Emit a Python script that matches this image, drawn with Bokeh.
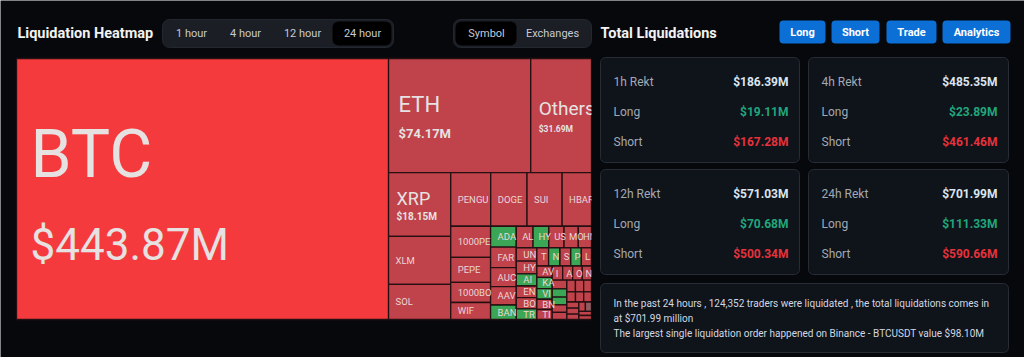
import math
from bokeh.plotting import figure
from bokeh.models import Range1d, ColumnDataSource
from bokeh.embed import file_html
from bokeh.resources import INLINE
from bokeh.core.properties import value

# ---------------- data ----------------
symbols = ["BTC", "ETH", "Others", "XRP", "XLM", "SOL", "PENGU", "DOGE", "SUI", "HBAR",
           "1000PEPE", "PEPE", "1000BONK", "WIF", "ADA", "FART", "AUCTION", "AAVE", "BANANA",
           "ALCH", "HYPE", "USUAL", "MOODENG", "HMSTR",
           "UNI", "HYPER", "AIXBT", "ENA", "BOME",
           "TRUMP", "TAO", "NIL", "S", "PUMP", "LINK", "AVAX", "KAITO", "VIRTUAL", "BNB", "TIA", "IP", "ARB",
           "OP", "NEAR", "WLD", "ONDO", "LTC", "TON", "FIL", "APT", "INJ", "JUP", "GALA", "ETC", "DOT",
           "TRX", "ATOM", "NOT", "CRV", "ORDI", "ENS", "SAND"]
liq_values = [443.87, 74.17, 31.69, 18.15, 13.6, 10.0, 9.8, 8.9, 8.6, 7.2,
              5.67, 4.57, 3.66, 3.1, 2.45, 2.4, 2.25, 2.15, 1.7,
              1.65, 1.55, 1.5, 1.4, 1.3,
              1.25, 1.2, 1.15, 1.1, 1.05,
              1.0, 0.98, 0.95, 0.9, 0.88, 0.85, 0.8, 0.78, 0.75, 0.72, 0.7, 0.68, 0.65,
              0.62, 0.6, 0.58, 0.55, 0.52, 0.5, 0.48, 0.46, 0.44, 0.42, 0.4, 0.38, 0.36,
              0.34, 0.32, 0.3, 0.28, 0.26, 0.24, 0.23]
hot_symbols = ["BTC"]
long_dominant = ["ADA", "BANANA", "HYPE", "AIXBT", "TRUMP", "NIL", "PUMP", "KAITO", "VIRTUAL", "ONDO", "LTC"]
neutral_symbols = ["ORDI"]

time_tabs = ["1 hour", "4 hour", "12 hour", "24 hour"]
view_tabs = ["Symbol", "Exchanges"]
buttons = ["Long", "Short", "Trade", "Analytics"]

periods = ["1h", "4h", "12h", "24h"]
total_rekt = [186.39, 485.35, 571.03, 701.99]
long_rekt = [19.11, 23.89, 70.68, 111.33]
short_rekt = [167.28, 461.46, 500.34, 590.66]

traders_24h = 124352
largest_exchange = "Binance"
largest_symbol = "BTCUSDT"
largest_value = 98.10

# ---------------- styles ----------------
BG = "#07080c"
FONT = "Roboto"
COL = {"hot": "#f53a3d", "short": "#c0424a", "long": "#3aa656", "neutral": "#8e5b60"}
BIG = {
    "BTC": dict(name_px=66, val_px=44, pad=14, name_dy=-35, val_dy=56, val_bold=False),
    "ETH": dict(name_px=22, val_px=13, pad=10, name_dy=-11, val_dy=18, val_bold=True),
    "Others": dict(name_px=19, val_px=8.5, pad=8, name_dy=-7, val_dy=13, val_bold=True),
    "XRP": dict(name_px=18, val_px=10, pad=8, name_dy=-6, val_dy=12, val_bold=True),
}
TM = dict(x=16, y=58, w=575, h=261)


def squarify(vals, x, y, w, h, ratio=0.5 * (1 + math.sqrt(5))):
    total = float(sum(vals))
    areas = [v * w * h / total for v in vals]
    rect = [x, y, w, h]
    out = [None] * len(vals)

    def worst(row, row_area, L):
        amax = max(a for _, a in row)
        amin = min(a for _, a in row)
        s2 = row_area * row_area
        f = L * L * ratio
        return max(f * amax / s2, s2 / (f * amin))

    def position(row, row_area, horizontal, flush):
        if horizontal:
            L = rect[2]
            thick = row_area / L
            if flush or thick > rect[3]:
                thick = rect[3]
            last = rect[0]
            for k, (i, a) in enumerate(row):
                ln = a / thick if k < len(row) - 1 else rect[0] + rect[2] - last
                out[i] = (last, rect[1], ln, thick)
                last += ln
            rect[1] += thick
            rect[3] -= thick
        else:
            L = rect[3]
            thick = row_area / L
            if flush or thick > rect[2]:
                thick = rect[2]
            last = rect[1]
            for k, (i, a) in enumerate(row):
                ln = a / thick if k < len(row) - 1 else rect[1] + rect[3] - last
                out[i] = (rect[0], last, thick, ln)
                last += ln
            rect[0] += thick
            rect[2] -= thick

    i = 0
    row, row_area, best = [], 0.0, float("inf")
    horizontal = rect[2] <= rect[3]
    L = min(rect[2], rect[3])
    while i < len(areas):
        a = areas[i]
        row.append((i, a))
        row_area += a
        score = worst(row, row_area, L)
        if score <= best:
            best = score
            i += 1
        else:
            row.pop()
            row_area -= a
            position(row, row_area, horizontal, False)
            horizontal = rect[2] <= rect[3]
            L = min(rect[2], rect[3])
            row, row_area, best = [], 0.0, float("inf")
    if row:
        position(row, row_area, horizontal, True)
    return out


p = figure(width=1024, height=357, x_range=Range1d(0, 1024), y_range=Range1d(357, 0),
           toolbar_location=None, output_backend="svg", min_border=0)
p.axis.visible = False
p.grid.visible = False
p.outline_line_color = None
p.background_fill_color = BG
p.border_fill_color = BG
p.min_border_left = p.min_border_right = p.min_border_top = p.min_border_bottom = 0

# ---------------- treemap ----------------
rects = squarify(liq_values, TM["x"], TM["y"], TM["w"], TM["h"])


def side_of(s):
    if s in hot_symbols:
        return "hot"
    if s in long_dominant:
        return "long"
    if s in neutral_symbols:
        return "neutral"
    return "short"


tiles = dict(l=[], r=[], t=[], b=[], c=[])
for s, (rx, ry, rw, rh) in zip(symbols, rects):
    tiles["l"].append(rx)
    tiles["r"].append(rx + rw)
    tiles["t"].append(ry)
    tiles["b"].append(ry + rh)
    tiles["c"].append(COL[side_of(s)])
p.quad(left="l", right="r", top="t", bottom="b", fill_color="c", line_color="#241012",
       line_width=1.3, source=ColumnDataSource(tiles))

# labels
big = dict(x=[], y=[], text=[], size=[], style=[], color=[])
small = dict(x=[], y=[], text=[])
for s, v, (rx, ry, rw, rh) in zip(symbols, liq_values, rects):
    cy = ry + rh / 2
    if s in BIG:
        st = BIG[s]
        big["x"].append(rx + st["pad"]); big["y"].append(cy + st["name_dy"])
        big["text"].append(s); big["size"].append(f"{st['name_px']}px"); big["style"].append("normal")
        big["color"].append("#e6e2e2")
        big["x"].append(rx + st["pad"]); big["y"].append(cy + st["val_dy"])
        big["text"].append(f"${v:.2f}M"); big["size"].append(f"{st['val_px']}px")
        big["style"].append("bold" if st["val_bold"] else "normal")
        big["color"].append("#e6e2e2")
    else:
        if rw < 9 or rh < 9:
            continue
        pad = min(7.0, 0.35 * rw)
        n = int(round((rw - pad) / (0.6 * 9.5)))
        n = max(1, min(len(s), n))
        small["x"].append(rx + pad); small["y"].append(cy); small["text"].append(s[:n])

p.text(x="x", y="y", text="text", text_font_size="size", text_font_style="style",
       text_color="color", text_font=value(FONT), text_baseline="middle", text_align="left",
       source=ColumnDataSource(big))
p.text(x="x", y="y", text="text", text_font_size=value("9.5px"), text_color="#ead6d8",
       text_font=value(FONT), text_baseline="middle", text_align="left",
       source=ColumnDataSource(small))

# mask overflow to the right of the heatmap
p.quad(left=[TM["x"] + TM["w"]], right=[1024], top=[50], bottom=[357], fill_color=BG, line_color=None)

# ---------------- header ----------------
p.text(x=[17], y=[33], text=["Liquidation Heatmap"], text_font=value(FONT), text_font_size=value("14.5px"),
       text_font_style="bold", text_color="#f2f2f2", text_baseline="middle")

tab_cx = [191, 245, 302, 362]
p.quad(left=[162], right=[393], top=[19], bottom=[47], fill_color="#1b1e25", line_color="#23272f",
       border_radius=7)
p.quad(left=[332], right=[391], top=[21], bottom=[45], fill_color="#000000", line_color=None, border_radius=6)
p.text(x=tab_cx, y=[33] * 4, text=time_tabs, text_font=value(FONT), text_font_size=value("11px"),
       text_color="#c5cbd6", text_align="center", text_baseline="middle")

view_cx = [486, 552]
p.quad(left=[453], right=[591], top=[19], bottom=[47], fill_color="#1b1e25", line_color="#23272f",
       border_radius=7)
p.quad(left=[455], right=[516], top=[21], bottom=[45], fill_color="#000000", line_color=None, border_radius=6)
p.text(x=view_cx, y=[33] * 2, text=view_tabs, text_font=value(FONT), text_font_size=value("11px"),
       text_color="#c5cbd6", text_align="center", text_baseline="middle")

p.text(x=[600], y=[33], text=["Total Liquidations"], text_font=value(FONT), text_font_size=value("14.5px"),
       text_font_style="bold", text_color="#f2f2f2", text_baseline="middle")

btn_l = [779, 831, 886, 942]
btn_r = [825, 879, 936, 1010]
p.quad(left=btn_l, right=btn_r, top=[20] * 4, bottom=[43] * 4, fill_color="#0c6fd6", line_color=None,
       border_radius=4)
p.text(x=[(a + b) / 2 for a, b in zip(btn_l, btn_r)], y=[31.5] * 4, text=buttons, text_font=value(FONT),
       text_font_size=value("11px"), text_font_style="bold", text_color="#ffffff",
       text_align="center", text_baseline="middle")

# ---------------- cards ----------------
card_l = [600, 808, 600, 808]
card_r = [799, 1008, 799, 1008]
card_t = [57, 57, 169, 169]
card_b = [162, 162, 274, 274]
p.quad(left=card_l, right=card_r, top=card_t, bottom=card_b, fill_color="#0f131a", line_color="#272c35",
       line_width=1, border_radius=5)
lab = dict(x=[], y=[], text=[])
vals = dict(x=[], y=[], text=[], color=[])
for k in range(4):
    x0, x1, y0 = card_l[k] + 13, card_r[k] - 11, card_t[k]
    rows = [(f"{periods[k]} Rekt", total_rekt[k], "#dbe5f0"),
            ("Long", long_rekt[k], "#21a67c"),
            ("Short", short_rekt[k], "#e5323b")]
    for j, (name, v, c) in enumerate(rows):
        yy = y0 + 24.5 + 30 * j
        lab["x"].append(x0); lab["y"].append(yy); lab["text"].append(name)
        vals["x"].append(x1); vals["y"].append(yy); vals["text"].append(f"${v:.2f}M"); vals["color"].append(c)
p.text(x="x", y="y", text="text", text_font=value(FONT), text_font_size=value("12px"), text_color="#a3a9b3",
       text_baseline="middle", source=ColumnDataSource(lab))
p.text(x="x", y="y", text="text", text_font=value(FONT), text_font_size=value("12px"), text_font_style="bold",
       text_color="color", text_align="right", text_baseline="middle", source=ColumnDataSource(vals))

# info card
p.quad(left=[600], right=[1008], top=[283], bottom=[352], fill_color="#0f131a", line_color="#272c35",
       line_width=1, border_radius=5)
info = [f"In the past 24 hours , {traders_24h:,} traders were liquidated , the total liquidations comes in",
        f"at ${total_rekt[3]:.2f} million",
        f"The largest single liquidation order happened on {largest_exchange} - {largest_symbol} value ${largest_value:.2f}M"]
p.text(x=[613] * 3, y=[303, 318, 333], text=info, text_font=value(FONT), text_font_size=value("10px"),
       text_color="#d2d8e2", text_baseline="middle")

open("out.html", "w").write(file_html(p, INLINE))
